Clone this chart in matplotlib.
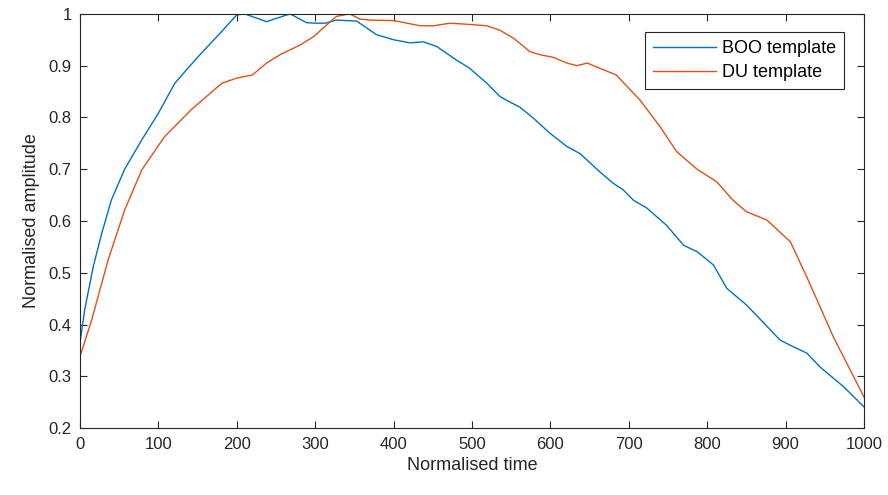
import matplotlib
matplotlib.use('Agg')
import matplotlib.pyplot as plt

plt.rcParams['font.family'] = ['Liberation Sans Narrow', 'Liberation Sans', 'DejaVu Sans']

# BOO template (azul)
t_boo = [0, 6, 17, 28, 40, 57, 79, 100, 121, 147, 153, 179, 200, 210, 238, 268, 289,
         300, 313, 327, 353, 378, 400, 421, 438, 455, 480, 497, 519, 536, 548, 561,
         578, 599, 621, 638, 663, 680, 693, 706, 723, 748, 770, 787, 808, 825, 850,
         871, 893, 910, 927, 944, 974, 1000]
boo = [0.364, 0.428, 0.512, 0.577, 0.64, 0.70, 0.757, 0.808, 0.866, 0.911, 0.921, 0.963,
       0.998, 1.0, 0.985, 1.0, 0.983, 0.982, 0.982, 0.988, 0.986, 0.96, 0.95, 0.944,
       0.946, 0.937, 0.911, 0.895, 0.866, 0.84, 0.83, 0.82, 0.799, 0.77, 0.744, 0.73,
       0.695, 0.673, 0.66, 0.64, 0.625, 0.592, 0.553, 0.541, 0.515, 0.47, 0.438, 0.405,
       0.37, 0.357, 0.345, 0.318, 0.28, 0.241]

# DU template (naranja)
t_du = [0, 15, 36, 57, 79, 108, 142, 181, 200, 220, 238, 255, 281, 298, 315,
        327, 344, 357, 370, 400, 434, 451, 472, 493, 519, 536, 553, 574, 587, 604,
        621, 634, 647, 663, 684, 714, 740, 761, 787, 812, 833, 850, 876, 906, 927,
        961, 1000]
du = [0.338, 0.409, 0.525, 0.621, 0.699, 0.763, 0.815, 0.866, 0.876, 0.882, 0.905,
      0.921, 0.94, 0.956, 0.979, 0.995, 1.0, 0.99, 0.988, 0.987, 0.977, 0.977, 0.982,
      0.98, 0.977, 0.968, 0.953, 0.927, 0.921, 0.916, 0.905, 0.90, 0.905, 0.895,
      0.882, 0.834, 0.782, 0.734, 0.70, 0.676, 0.64, 0.618, 0.602, 0.56, 0.492,
      0.376, 0.26]

xticks = list(range(0, 1001, 100))
yticks = [0.2, 0.3, 0.4, 0.5, 0.6, 0.7, 0.8, 0.9, 1.0]
ytick_labels = ['0.2', '0.3', '0.4', '0.5', '0.6', '0.7', '0.8', '0.9', '1']

fig = plt.figure(figsize=(8.88, 4.95), dpi=100)
ax = fig.add_axes([0.090, 0.135, 0.883, 0.837])

ax.plot(t_boo, boo, color='#0072BD', lw=1.0, label='BOO template')
ax.plot(t_du, du, color='#D95319', lw=1.0, label='DU template')

ax.set_xlim(0, 1000)
ax.set_ylim(0.2, 1.0)
ax.set_xticks(xticks)
ax.set_yticks(yticks)
ax.set_yticklabels(ytick_labels)
ax.tick_params(direction='in', top=True, right=True, length=5, width=0.8,
               colors='#262626', labelsize=12, pad=6)
for s in ax.spines.values():
    s.set_color('#262626')
    s.set_linewidth(0.8)

ax.set_xlabel('Normalised time', fontsize=13, color='#262626', labelpad=4)
ax.set_ylabel('Normalised amplitude', fontsize=13, color='#262626', labelpad=6)

leg = ax.legend(loc='upper right', bbox_to_anchor=(0.9745, 0.9565), borderaxespad=0,
                fontsize=13, handlelength=3.5, handletextpad=0.3, borderpad=0.45,
                labelspacing=0.4, fancybox=False, framealpha=1)
leg.get_frame().set_edgecolor('#262626')
leg.get_frame().set_linewidth(0.8)

fig.savefig('out.png', dpi=100)
